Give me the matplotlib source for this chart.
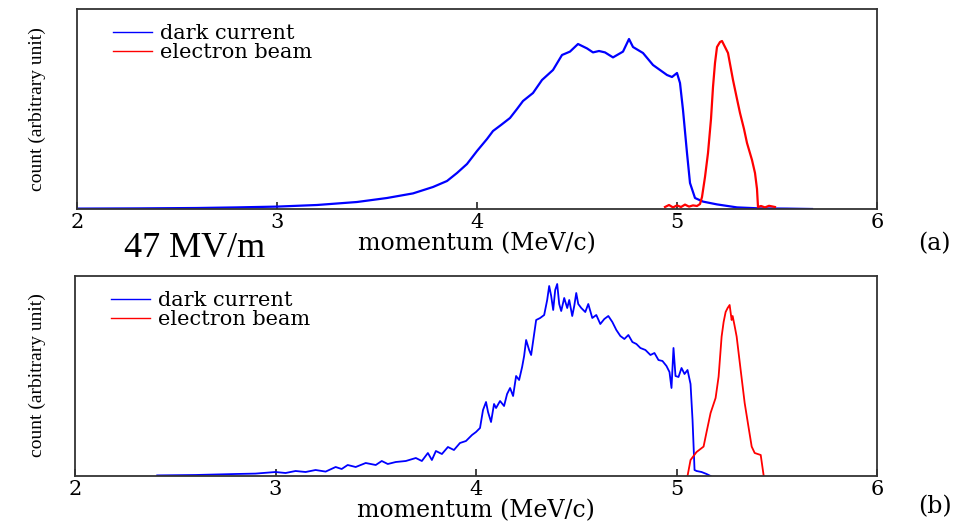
import matplotlib
matplotlib.use("Agg")
import matplotlib.pyplot as plt

# ---------------- data (panel a) ----------------
a_dark_x = [2.0, 2.3, 2.6, 2.8, 3.0, 3.2, 3.4, 3.55, 3.68, 3.78, 3.85, 3.9, 3.95, 4.0,
            4.05, 4.08, 4.12, 4.165, 4.2, 4.23, 4.28, 4.325, 4.38, 4.425, 4.465, 4.505,
            4.55, 4.58, 4.61, 4.64, 4.68, 4.73, 4.76, 4.78, 4.83, 4.88, 4.95, 4.975,
            5.0, 5.015, 5.03, 5.05, 5.065, 5.09, 5.13, 5.2, 5.3, 5.415, 5.55, 5.675]
a_dark_y = [0.2, 0.3, 0.5, 0.8, 1.2, 2.0, 3.5, 5.5, 7.8, 11.0, 14.0, 18.0, 22.5, 29.0,
            35.0, 39.0, 42.0, 45.5, 50.0, 54.0, 58.0, 64.5, 69.5, 77.0, 78.7, 82.5,
            80.3, 78.3, 79.0, 78.3, 75.8, 78.7, 85.0, 81.0, 78.0, 72.0, 67.0, 66.0,
            68.0, 63.0, 49.5, 28.0, 13.0, 5.5, 3.7, 2.3, 0.8, 0.3, 0.2, 0.0]

a_beam_x = [4.94, 4.96, 4.98, 5.0, 5.02, 5.04, 5.06, 5.08, 5.1, 5.115, 5.125, 5.14,
            5.155, 5.17, 5.18, 5.19, 5.2, 5.215, 5.225, 5.24, 5.255, 5.28, 5.3, 5.315,
            5.335, 5.35, 5.375, 5.39, 5.4, 5.405, 5.42, 5.44, 5.46, 5.49]
a_beam_y = [1.0, 2.0, 0.8, 1.8, 1.0, 2.2, 1.2, 1.8, 1.5, 2.5, 6.0, 16.0,
            28.0, 45.0, 61.0, 73.0, 81.0, 83.5, 84.0, 81.0, 78.0, 64.5, 55.0, 48.0,
            40.0, 33.0, 24.5, 18.0, 10.0, 1.0, 1.5, 0.8, 1.6, 1.0]

# ---------------- data (panel b) ----------------
b_dark_x = [2.41, 2.6, 2.8, 2.9, 3.0, 3.05, 3.1, 3.15, 3.2, 3.25, 3.3, 3.33, 3.36, 3.4,
            3.45, 3.5, 3.53, 3.56, 3.6, 3.65, 3.7, 3.73, 3.76, 3.78, 3.8, 3.83, 3.86,
            3.89, 3.92, 3.95, 3.98, 4.0, 4.02, 4.035, 4.05, 4.06, 4.075, 4.09, 4.1,
            4.12, 4.14, 4.155, 4.17, 4.185, 4.2, 4.215, 4.23, 4.24, 4.25, 4.265, 4.275,
            4.29, 4.3, 4.32, 4.34, 4.355, 4.365, 4.375, 4.385, 4.395, 4.405, 4.415,
            4.425, 4.44, 4.455, 4.465, 4.48, 4.49, 4.5, 4.51, 4.525, 4.545, 4.56, 4.58,
            4.6, 4.62, 4.64, 4.66, 4.68, 4.7, 4.72, 4.74, 4.76, 4.78, 4.8, 4.82, 4.845,
            4.87, 4.89, 4.91, 4.93, 4.95, 4.965, 4.975, 4.985, 4.995, 5.01, 5.025, 5.04,
            5.055, 5.07, 5.08, 5.09, 5.1, 5.125, 5.15, 5.17]
b_dark_y = [0.3, 0.5, 1.0, 1.2, 2.0, 1.5, 2.5, 2.0, 3.0, 2.2, 4.5, 3.5, 5.5, 4.5,
            6.5, 5.5, 7.5, 6.0, 7.0, 7.5, 9.0, 7.5, 11.5, 8.0, 12.5, 11.0, 14.5,
            13.0, 16.5, 17.5, 20.5, 22.0, 24.0, 33.0, 37.0, 32.0, 27.0, 36.0, 34.0,
            37.5, 35.0, 41.0, 44.0, 40.0, 50.0, 48.0, 54.5, 60.0, 68.0, 63.0, 60.5,
            71.0, 78.0, 79.0, 80.5, 88.0, 95.0, 90.0, 83.0, 93.0, 96.0, 86.0,
            82.5, 89.0, 84.0, 88.0, 80.0, 85.0, 91.5, 86.0, 84.0, 82.0, 86.0, 79.0,
            80.5, 76.0, 78.5, 80.0, 77.0, 73.0, 70.0, 68.5, 70.5, 67.0, 66.0, 64.0, 63.0,
            60.5, 61.5, 58.0, 57.5, 55.0, 52.0, 44.0, 64.0, 50.0, 49.5, 54.0, 51.0,
            53.0, 46.0, 28.0, 3.0, 2.5, 2.0, 1.0, 0.0]

b_beam_x = [5.055, 5.07, 5.1, 5.135, 5.15, 5.17, 5.195, 5.21, 5.225, 5.235, 5.245,
            5.255, 5.265, 5.275, 5.28, 5.29, 5.3, 5.32, 5.34, 5.36, 5.375, 5.39, 5.42,
            5.435]
b_beam_y = [0.0, 8.0, 12.0, 14.7, 22.0, 31.5, 39.0, 49.7, 69.7, 77.0, 82.0,
            84.0, 85.5, 78.0, 80.0, 75.0, 69.7, 53.0, 36.5, 24.0, 14.7, 11.5, 10.5,
            0.0]

x_ticks = [2, 3, 4, 5, 6]
x_label = "momentum (MeV/c)"
y_label = "count (arbitrary unit)"
legend_labels = ["dark current", "electron beam"]
panel_tags = ["(a)", "(b)"]
field_note = "47 MV/m"

SERIF_WIDE = ["DejaVu Serif"]
SERIF_TIMES = ["Liberation Serif", "DejaVu Serif"]

fig = plt.figure(figsize=(9.75, 5.22), dpi=100)
ax_a = fig.add_axes([77 / 975, 313 / 522, 800 / 975, 200 / 522])
ax_b = fig.add_axes([75 / 975, 46 / 522, 802 / 975, 200 / 522])

panels = [
    (ax_a, a_dark_x, a_dark_y, a_beam_x, a_beam_y, 1.6),
    (ax_b, b_dark_x, b_dark_y, b_beam_x, b_beam_y, 1.3),
]

for ax, dx, dy, bx, by, lw in panels:
    ax.plot(dx, dy, color="#0000ff", lw=lw, label=legend_labels[0])
    ax.plot(bx, by, color="#ff0000", lw=lw, label=legend_labels[1])
    ax.set_xlim(2, 6)
    ax.set_ylim(0, 100)
    ax.set_xticks(x_ticks)
    ax.set_xticklabels([str(t) for t in x_ticks], family=SERIF_WIDE, fontsize=15)
    ax.set_yticks([])
    ax.tick_params(axis="x", direction="in", length=5, width=1.2, pad=3, color="#222222")
    for s in ax.spines.values():
        s.set_linewidth(1.3)
        s.set_color("#333333")
    ax.set_xlabel(x_label, family=SERIF_WIDE, fontsize=17, labelpad=0)
    leg = ax.legend(loc="upper left", bbox_to_anchor=(0.035, 0.965), frameon=False,
                    prop={"family": SERIF_WIDE, "size": 15},
                    handlelength=1.85, handletextpad=0.4, labelspacing=0.0,
                    borderaxespad=0.0)
    for line in leg.get_lines():
        line.set_linewidth(1.0)

# y labels
fig.text(37 / 975, 1 - 109 / 522, y_label, rotation=90, ha="center", va="center",
         family=SERIF_TIMES, fontsize=14)
fig.text(37 / 975, 1 - 375 / 522, y_label, rotation=90, ha="center", va="center",
         family=SERIF_TIMES, fontsize=14)

# panel tags
fig.text(918 / 975, 1 - 244 / 522, panel_tags[0], ha="left", va="center",
         family=SERIF_WIDE, fontsize=17)
fig.text(918 / 975, 1 - 507 / 522, panel_tags[1], ha="left", va="center",
         family=SERIF_WIDE, fontsize=17)

# field annotation
fig.text(195 / 975, 1 - 257 / 522, field_note, ha="center", va="baseline",
         family=SERIF_TIMES, fontsize=26)

fig.savefig("out.png", dpi=100, facecolor="white")
